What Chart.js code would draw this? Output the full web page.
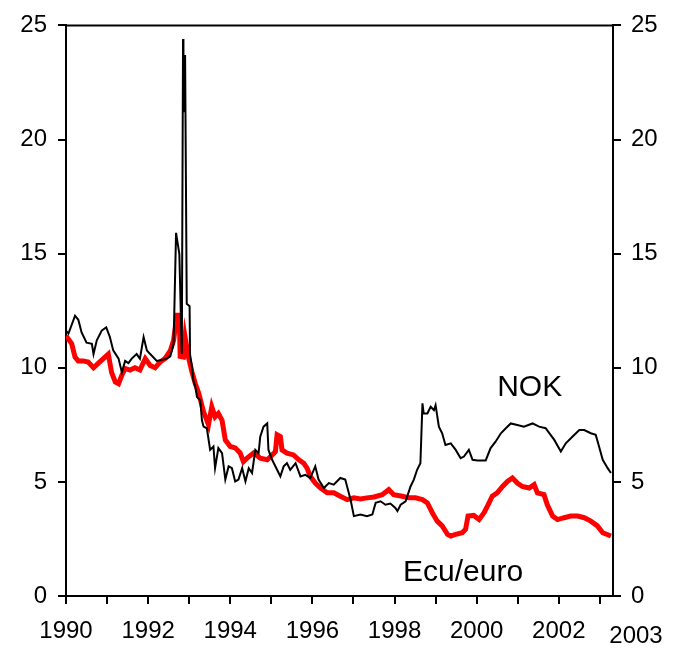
<!DOCTYPE html>
<html>
<head>
<meta charset="utf-8">
<script src="https://cdn.jsdelivr.net/npm/chart.js@4/dist/chart.umd.min.js"></script>
<style>
  body { margin: 0; background: #fff; }
  #wrap { width: 678px; height: 648px; }
</style>
</head>
<body>
<div id="wrap"><canvas id="chart"></canvas></div>
<script>
// NOK series (decimal year, per cent)
const nokYears = [1990.0, 1990.06, 1990.22, 1990.30, 1990.38, 1990.50, 1990.63, 1990.67, 1990.75, 1990.87, 1990.98,
  1991.07, 1991.15, 1991.28, 1991.36, 1991.44, 1991.52, 1991.60, 1991.72, 1991.80, 1991.89, 1991.97,
  1992.05, 1992.21, 1992.46, 1992.54, 1992.62, 1992.68, 1992.76, 1992.82, 1992.85, 1992.86, 1992.90, 1992.94,
  1993.01, 1993.02, 1993.07, 1993.10, 1993.15, 1993.19, 1993.27, 1993.31, 1993.35, 1993.43, 1993.51, 1993.59,
  1993.63, 1993.71, 1993.80, 1993.88, 1993.96, 1994.04, 1994.12, 1994.20, 1994.29, 1994.37, 1994.45, 1994.53,
  1994.61, 1994.69, 1994.73, 1994.81, 1994.90, 1994.93, 1995.02, 1995.14, 1995.22, 1995.30, 1995.38, 1995.46,
  1995.59, 1995.71, 1995.83, 1995.95, 1996.07, 1996.15, 1996.28, 1996.40, 1996.52, 1996.68, 1996.80, 1996.93,
  1997.01, 1997.17, 1997.33, 1997.46, 1997.54, 1997.66, 1997.78, 1997.90, 1998.02, 1998.07, 1998.15, 1998.27,
  1998.39, 1998.47, 1998.55, 1998.63, 1998.68, 1998.71, 1998.80, 1998.88, 1998.96, 1999.00, 1999.08, 1999.16,
  1999.24, 1999.37, 1999.49, 1999.61, 1999.69, 1999.81, 1999.90, 2000.02, 2000.22, 2000.34, 2000.46, 2000.59,
  2000.71, 2000.83, 2000.99, 2001.15, 2001.36, 2001.52, 2001.68, 2001.80, 2001.89, 2002.05, 2002.17, 2002.33,
  2002.50, 2002.62, 2002.78, 2002.90, 2002.98, 2003.07, 2003.19, 2003.27];
const nokValues = [11.63, 11.5, 12.28, 12.1, 11.55, 11.1, 11.05, 10.6, 11.2, 11.63, 11.77,
  11.34, 10.76, 10.4, 9.8, 10.3, 10.2, 10.4, 10.6, 10.4, 11.34, 10.76,
  10.6, 10.3, 10.4, 10.5, 11.05, 15.91, 14.98, 10.6, 24.4, 21.2, 23.7, 12.8,
  12.7, 10.6, 10.03, 9.45, 9.16, 8.72, 8.58, 7.7, 7.42, 7.35, 6.4, 6.55,
  5.6, 6.48, 6.26, 5.1, 5.68, 5.6, 5.02, 5.1, 5.6, 5.02, 5.6, 5.39,
  6.4, 6.26, 6.98, 7.42, 7.56, 6.4, 5.97, 5.53, 5.24, 5.68, 5.82, 5.53,
  5.82, 5.24, 5.31, 5.17, 5.68, 5.1, 4.73, 4.95, 4.88, 5.17, 5.1, 4.22,
  3.5, 3.57, 3.5, 3.57, 4.08, 4.15, 4.0, 4.05, 3.86, 3.72, 4.0, 4.15,
  4.8, 5.1, 5.53, 5.82, 8.44, 8.0, 8.0, 8.29, 8.14, 8.36, 7.42, 7.13,
  6.62, 6.69, 6.4, 6.04, 6.11, 6.4, 5.97, 5.94, 5.94, 6.48, 6.76, 7.13,
  7.35, 7.56, 7.49, 7.42, 7.56, 7.42, 7.35, 7.06, 6.84, 6.33, 6.69, 6.98,
  7.27, 7.27, 7.13, 7.06, 6.55, 5.97, 5.6, 5.39];

// Ecu/euro series (decimal year, per cent)
const ecuYears = [1990.0, 1990.14, 1990.22, 1990.30, 1990.42, 1990.54, 1990.67, 1990.79, 1990.91,
  1991.03, 1991.11, 1991.20, 1991.28, 1991.36, 1991.44, 1991.56, 1991.68, 1991.80, 1991.93,
  1992.05, 1992.17, 1992.29, 1992.41, 1992.54, 1992.62, 1992.70, 1992.76, 1992.78, 1992.86, 1992.90, 1992.98,
  1993.07, 1993.15, 1993.23, 1993.35, 1993.47, 1993.55, 1993.63, 1993.71, 1993.80, 1993.88,
  1994.00, 1994.12, 1994.24, 1994.32, 1994.41, 1994.57, 1994.73, 1994.90,
  1995.02, 1995.10, 1995.14, 1995.22, 1995.26, 1995.38, 1995.54, 1995.67, 1995.79, 1995.87, 1995.95,
  1996.07, 1996.20, 1996.36, 1996.52, 1996.68, 1996.85, 1997.01, 1997.17, 1997.33, 1997.50, 1997.70,
  1997.86, 1997.98, 1998.19, 1998.35, 1998.51, 1998.68, 1998.80, 1998.92, 1999.04, 1999.16, 1999.29,
  1999.37, 1999.49, 1999.65, 1999.73, 1999.79, 1999.93, 2000.06, 2000.18, 2000.26, 2000.38, 2000.50,
  2000.63, 2000.75, 2000.87, 2000.99, 2001.11, 2001.28, 2001.40, 2001.48, 2001.64, 2001.72, 2001.85,
  2001.97, 2002.13, 2002.29, 2002.46, 2002.62, 2002.78, 2002.94, 2003.07, 2003.27];
const ecuValues = [11.4, 11.05, 10.47, 10.3, 10.3, 10.25, 10.0, 10.2, 10.4,
  10.6, 9.8, 9.38, 9.3, 9.67, 9.97, 9.9, 10.0, 9.9, 10.4,
  10.1, 10.0, 10.25, 10.4, 10.75, 11.2, 12.3, 12.3, 10.5, 10.47, 11.34, 10.47,
  9.8, 9.3, 8.9, 8.07, 7.5, 8.29, 7.85, 8.0, 7.7, 6.84,
  6.55, 6.49, 6.27, 5.89, 6.04, 6.27, 6.04, 5.97,
  6.18, 6.33, 7.06, 6.98, 6.4, 6.26, 6.18, 5.97, 5.82, 5.6, 5.24,
  4.95, 4.73, 4.52, 4.52, 4.37, 4.22, 4.3, 4.25, 4.3, 4.34, 4.44,
  4.66, 4.44, 4.37, 4.3, 4.3, 4.22, 4.08, 3.65, 3.28, 3.07, 2.7,
  2.63, 2.7, 2.77, 2.92, 3.5, 3.53, 3.35, 3.65, 3.93, 4.37, 4.52,
  4.8, 5.02, 5.17, 4.95, 4.8, 4.73, 4.88, 4.52, 4.44, 4.0, 3.5,
  3.35, 3.43, 3.5, 3.5, 3.43, 3.28, 3.07, 2.77, 2.63];

const yearTicks = [1990, 1991, 1992, 1993, 1994, 1995, 1996, 1997, 1998, 1999, 2000, 2001, 2002, 2003];
const valueTicks = [0, 5, 10, 15, 20, 25];

const FONT = "'Liberation Sans', Arial, sans-serif";

function toPoints(xs, ys) {
  return xs.map((x, i) => ({ x: x, y: ys[i] }));
}

// frame top line, end label "2003" and the series names
const extras = {
  id: 'extras',
  afterDraw(chart) {
    const ctx = chart.ctx;
    const area = chart.chartArea;
    const xs = chart.scales.x;
    const ys = chart.scales.y;
    ctx.save();
    ctx.strokeStyle = '#000';
    ctx.lineWidth = 2;
    ctx.beginPath();
    ctx.moveTo(area.left, area.top);
    ctx.lineTo(area.right, area.top);
    ctx.stroke();

    ctx.fillStyle = '#000';
    ctx.font = '24px ' + FONT;
    ctx.textAlign = 'center';
    ctx.textBaseline = 'alphabetic';
    ctx.fillText('2003', area.right + 23, area.bottom + 47);

    ctx.font = '30px ' + FONT;
    ctx.fillText('NOK', xs.getPixelForValue(2001.29), ys.getPixelForValue(8.77));
    ctx.fillText('Ecu/euro', xs.getPixelForValue(1999.67), ys.getPixelForValue(0.65));
    ctx.restore();
  }
};

const axisGrid = { drawOnChartArea: false, color: '#000', lineWidth: 2, tickLength: 8 };
const axisBorder = { display: true, color: '#000', width: 2 };

new Chart(document.getElementById('chart').getContext('2d'), {
  type: 'line',
  data: {
    datasets: [
      {
        label: 'NOK',
        data: toPoints(nokYears, nokValues),
        borderColor: '#000',
        borderWidth: 2,
        pointRadius: 0,
        tension: 0,
        order: 0
      },
      {
        label: 'Ecu/euro',
        data: toPoints(ecuYears, ecuValues),
        borderColor: '#ff0000',
        borderWidth: 5,
        pointRadius: 0,
        tension: 0,
        order: 1
      }
    ]
  },
  options: {
    responsive: true,
    maintainAspectRatio: false,
    animation: false,
    layout: { padding: { top: 23, left: 0, right: 0, bottom: 0 } },
    plugins: { legend: { display: false }, tooltip: { enabled: false } },
    scales: {
      x: {
        type: 'linear',
        position: 'bottom',
        min: 1990,
        max: 2003.32,
        afterBuildTicks: (scale) => { scale.ticks = yearTicks.map(v => ({ value: v })); },
        afterFit: (scale) => { scale.height = 52; },
        grid: axisGrid,
        border: axisBorder,
        ticks: {
          autoSkip: false,
          maxRotation: 0,
          padding: 13,
          color: '#000',
          font: { family: FONT, size: 24 },
          callback: (v) => (v % 2 === 0 ? String(v) : '')
        }
      },
      y: {
        position: 'left',
        min: 0,
        max: 25,
        afterBuildTicks: (scale) => { scale.ticks = valueTicks.map(v => ({ value: v })); },
        afterFit: (scale) => { scale.width = 66; },
        grid: axisGrid,
        border: axisBorder,
        ticks: { padding: 11, color: '#000', font: { family: FONT, size: 24 } }
      },
      y2: {
        position: 'right',
        min: 0,
        max: 25,
        afterBuildTicks: (scale) => { scale.ticks = valueTicks.map(v => ({ value: v })); },
        afterFit: (scale) => { scale.width = 65; },
        grid: axisGrid,
        border: axisBorder,
        ticks: { padding: 10, color: '#000', font: { family: FONT, size: 24 } }
      }
    }
  },
  plugins: [extras]
});
</script>
</body>
</html>
